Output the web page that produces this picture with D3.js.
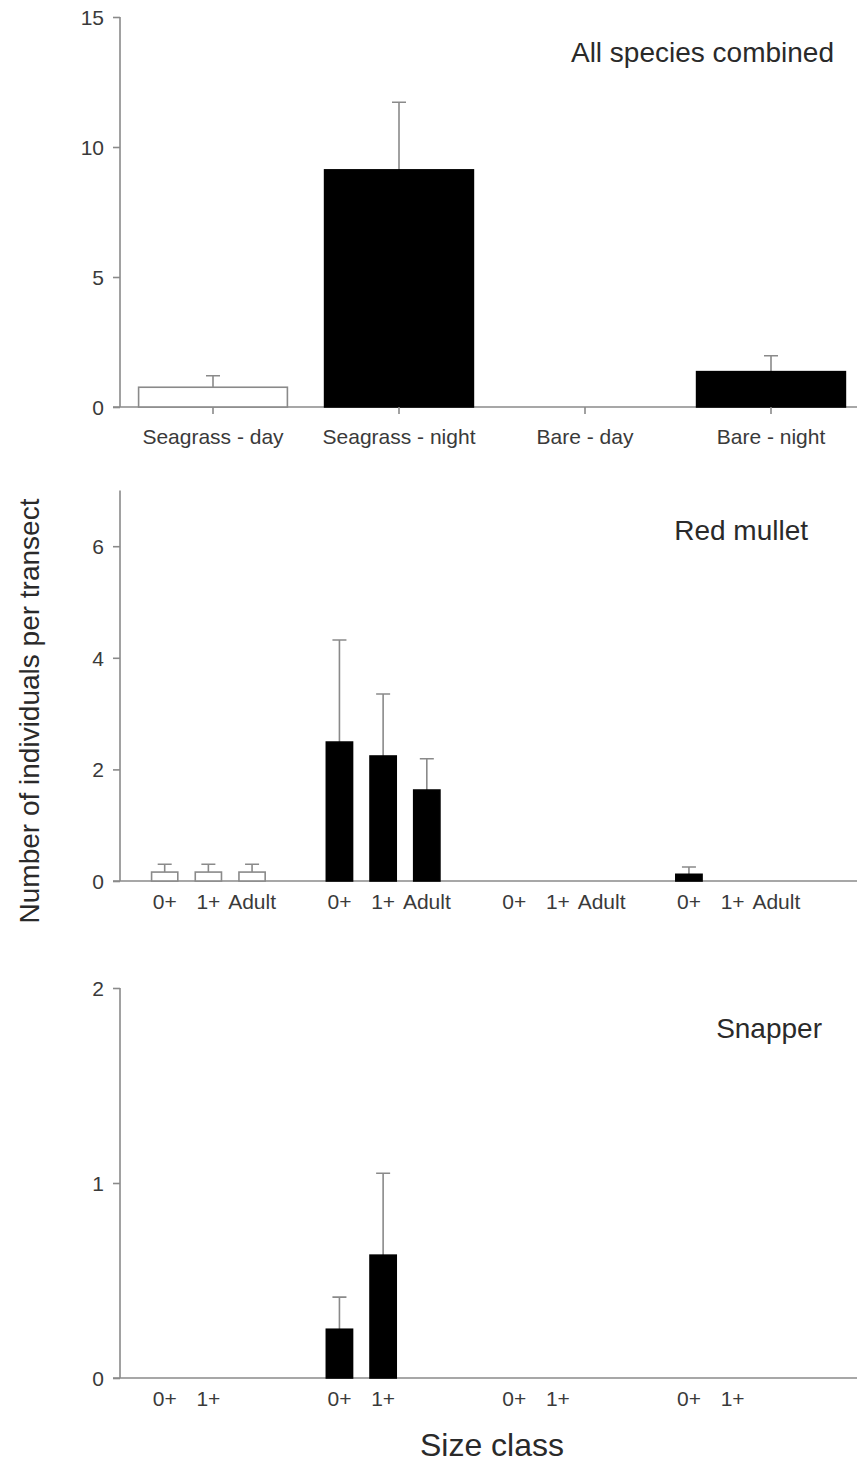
<!DOCTYPE html>
<html>
<head>
<meta charset="utf-8">
<script src="https://cdn.jsdelivr.net/npm/d3@7"></script>
<style>
	body { margin: 0; background: #fff; }
	svg { display: block; font-family: "Liberation Sans", Arial, sans-serif; }
	.axis path, .axis line { stroke: #8a8a8a; stroke-width: 1.6; }
	.axis text { fill: #3a3a3a; font-size: 21px; }
	.title { fill: #2a2a2a; font-size: 28px; }
	.label { fill: #2a2a2a; }
	.err { stroke: #8a8a8a; stroke-width: 1.6; fill: none; }
</style>
</head>
<body>
<svg id="chart" width="857" height="1464"></svg>
<script>
/* global d3 */

const sites = ["Seagrass - day", "Seagrass - night", "Bare - day", "Bare - night"];
const siteFill = ["#ffffff", "#000000", "#ffffff", "#000000"];

// All species combined
const allMean = [0.76, 9.12, 0, 1.36];
const allSE = [0.44, 2.6, 0, 0.61];
const allTicks = [0, 5, 10, 15];

// Red mullet, per size class within each site
const mulletClasses = ["0+", "1+", "Adult"];
const mulletMean = [
	[0.16, 0.16, 0.16],
	[2.49, 2.24, 1.63],
	[0, 0, 0],
	[0.12, 0, 0],
];
const mulletSE = [
	[0.14, 0.14, 0.14],
	[1.83, 1.11, 0.56],
	[0, 0, 0],
	[0.13, 0, 0],
];
const mulletTicks = [0, 2, 4, 6];

// Snapper
const snapperClasses = ["0+", "1+"];
const snapperMean = [
	[0, 0],
	[0.25, 0.63],
	[0, 0],
	[0, 0],
];
const snapperSE = [
	[0, 0],
	[0.165, 0.42],
	[0, 0],
	[0, 0],
];
const snapperTicks = [0, 1, 2];

const svg = d3.select("#chart");
const axisLeftX = 120;
const axisRightX = 857;
const capHalf = 7;

function drawYAxis(y, ticks) {
	const g = svg.append("g").attr("class", "axis").attr("transform", `translate(${axisLeftX},0)`);
	g.call(d3.axisLeft(y).tickValues(ticks).tickFormat(d3.format("d")).tickSize(7).tickSizeOuter(0).tickPadding(9));
	g.select(".domain").attr("d", `M0,${y.range()[0]}V${y.range()[1]}`);
	g.selectAll(".tick text").attr("dy", "0.35em");
	return g;
}

function drawXLine(y0) {
	svg.append("line")
		.attr("class", "err")
		.attr("x1", axisLeftX - 7)
		.attr("x2", axisRightX)
		.attr("y1", y0)
		.attr("y2", y0);
}

function drawBar(x, w, y, mean, se, fill) {
	if (!(mean > 0)) return;
	const cx = x + w / 2;
	if (se > 0) {
		svg.append("path")
			.attr("class", "err")
			.attr("d", `M${cx},${y(mean)}V${y(mean + se)}M${cx - capHalf},${y(mean + se)}H${cx + capHalf}`);
	}
	svg.append("rect")
		.attr("x", x)
		.attr("y", y(mean))
		.attr("width", w)
		.attr("height", y(0) - y(mean))
		.attr("fill", fill)
		.attr("stroke", fill === "#000000" ? "#000" : "#8a8a8a")
		.attr("stroke-width", 1.6);
}

function drawTitle(text, x, y) {
	svg.append("text").attr("class", "title").attr("x", x).attr("y", y).attr("text-anchor", "end").text(text);
}

// Panel 1
function panelAll() {
	const y = d3.scaleLinear().domain([0, 15]).range([407, 17]);
	const x = d3.scaleBand().domain(sites).range([120, 864]).paddingInner(0.2).paddingOuter(0.1);
	drawYAxis(y, allTicks);
	drawXLine(y(0));
	sites.forEach((site, i) => drawBar(x(site), x.bandwidth(), y, allMean[i], allSE[i], siteFill[i]));
	const gx = svg.append("g").attr("class", "axis").attr("transform", `translate(0,${y(0)})`);
	gx.call(d3.axisBottom(x).tickSize(7).tickSizeOuter(0).tickPadding(15));
	gx.select(".domain").remove();
	drawTitle("All species combined", 834, 62);
}

function groupedPanel(classes, means, ses, y, ticks, title, titleX, titleY) {
	const outer = d3.scaleBand().domain(sites).range([121, 820]);
	const inner = d3.scaleBand().domain(mulletClasses).paddingInner(0.4).paddingOuter(0.2);
	const half = (outer.bandwidth() * 3) / 4 / 2;
	inner.range([outer.bandwidth() / 2 - half, outer.bandwidth() / 2 + half]);
	drawYAxis(y, ticks);
	drawXLine(y(0));
	sites.forEach((site, i) => {
		classes.forEach((cls, j) => {
			drawBar(outer(site) + inner(cls), inner.bandwidth(), y, means[i][j], ses[i][j], siteFill[i]);
		});
	});
	const labels = svg.append("g").attr("class", "axis");
	sites.forEach((site) => {
		classes.forEach((cls) => {
			labels.append("text")
				.attr("x", outer(site) + inner(cls) + inner.bandwidth() / 2)
				.attr("y", y(0) + 28)
				.attr("text-anchor", "middle")
				.text(cls);
		});
	});
	drawTitle(title, titleX, titleY);
}

panelAll();
groupedPanel(mulletClasses, mulletMean, mulletSE, d3.scaleLinear().domain([0, 7]).range([881, 490.4]), mulletTicks, "Red mullet", 808, 540);
groupedPanel(snapperClasses, snapperMean, snapperSE, d3.scaleLinear().domain([0, 2]).range([1378, 988]), snapperTicks, "Snapper", 822, 1038);

svg.append("text")
	.attr("class", "label")
	.attr("transform", "translate(39,711) rotate(-90)")
	.attr("text-anchor", "middle")
	.style("font-size", "28px")
	.text("Number of individuals per transect");

svg.append("text")
	.attr("class", "label")
	.attr("x", 492)
	.attr("y", 1456)
	.attr("text-anchor", "middle")
	.style("font-size", "32px")
	.text("Size class");
</script>
</body>
</html>
